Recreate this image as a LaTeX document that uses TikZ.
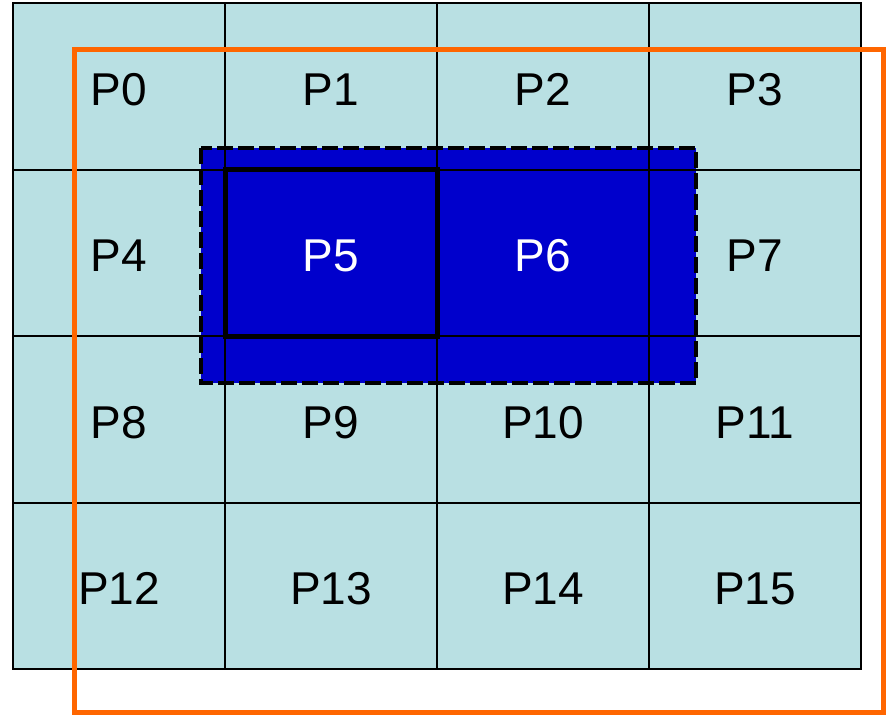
\documentclass[tikz,border=0pt]{standalone}
\usepackage{fontspec}
\setmainfont{Liberation Sans}
\usepackage{xcolor}
\usepackage{tikz}
\definecolor{cellcyan}{RGB}{185,224,227}
\definecolor{selblue}{RGB}{0,0,204}
\definecolor{haloorange}{RGB}{255,102,0}

\begin{document}
\begin{tikzpicture}[x=1pt, y=-1pt,
  cell/.style={draw=black, line width=2pt, fill=cellcyan, minimum width=212pt, minimum height=166.5pt, inner sep=0pt, outer sep=0pt},
  lbl/.style={font=\fontsize{46}{50}\selectfont, inner sep=0pt}]
\useasboundingbox (0,0) rectangle (889,715);
% Grid of processes
\foreach \r in {0,...,3}
  \foreach \c in {0,...,3} {
    \pgfmathtruncatemacro{\n}{4*\r+\c}
    \node[cell] (p\n) at ({13+212*(\c+0.5)}, {3+166.5*(\r+0.5)}) {};
  }
% Selected region
\filldraw[fill=selblue, draw=black, line width=3.5pt, dash pattern=on 16pt off 5pt] (201,148) rectangle (696,383);
% Cell borders and labels on top
\foreach \n in {0,...,15} {
  \draw[line width=2pt] (p\n.south west) rectangle (p\n.north east);
  \ifnum\n=5 \def\tc{white}\else\ifnum\n=6 \def\tc{white}\else\def\tc{black}\fi\fi
  \node[lbl, text=\tc] (t\n) at ([yshift=-3pt]p\n.center) {P\n};
}
\draw[line width=2.2pt] (p0.north west) rectangle (p15.south east);
% Own block
\draw[line width=5pt] (p5.north west) rectangle (p5.south east);
% Halo
\draw[haloorange, line width=5pt] (74.5,49) rectangle (883,712);
\end{tikzpicture}
\end{document}
